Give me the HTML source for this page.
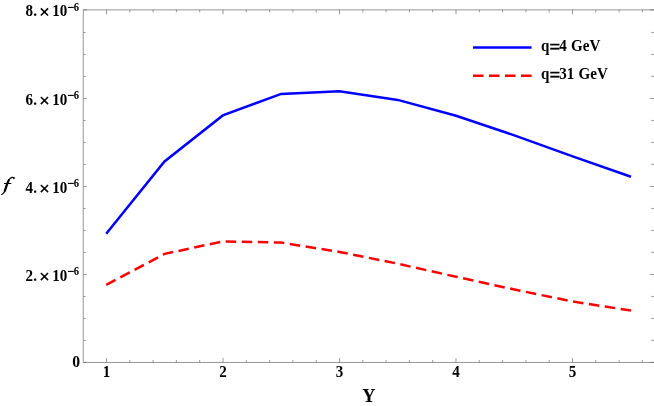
<!DOCTYPE html>
<html><head><meta charset="utf-8"><title>plot</title>
<style>
html,body{margin:0;padding:0;background:#fff;}
body{width:654px;height:406px;overflow:hidden;font-family:"Liberation Serif",serif;}
svg{display:block;will-change:transform;}
text{font-family:"Liberation Serif",serif;font-weight:bold;fill:#000;}
</style></head><body>
<svg width="654" height="406" viewBox="0 0 654 406">
<rect x="0" y="0" width="654" height="406" fill="#fff"/>
<g stroke="#666" stroke-width="0.68" fill="none">
<path d="M83.25 9.85 H654.60 M83.25 362.45 H654.60 M83.25 9.85 V362.45 M654.60 9.85 V362.45"/>
<path stroke-width="0.66" d="M106.50 362.45 v-4.40 M106.50 9.85 v4.40 M129.80 362.45 v-2.50 M129.80 9.85 v2.50 M153.10 362.45 v-2.50 M153.10 9.85 v2.50 M176.40 362.45 v-2.50 M176.40 9.85 v2.50 M199.70 362.45 v-2.50 M199.70 9.85 v2.50 M223.00 362.45 v-4.40 M223.00 9.85 v4.40 M246.30 362.45 v-2.50 M246.30 9.85 v2.50 M269.60 362.45 v-2.50 M269.60 9.85 v2.50 M292.90 362.45 v-2.50 M292.90 9.85 v2.50 M316.20 362.45 v-2.50 M316.20 9.85 v2.50 M339.50 362.45 v-4.40 M339.50 9.85 v4.40 M362.80 362.45 v-2.50 M362.80 9.85 v2.50 M386.10 362.45 v-2.50 M386.10 9.85 v2.50 M409.40 362.45 v-2.50 M409.40 9.85 v2.50 M432.70 362.45 v-2.50 M432.70 9.85 v2.50 M456.00 362.45 v-4.40 M456.00 9.85 v4.40 M479.30 362.45 v-2.50 M479.30 9.85 v2.50 M502.60 362.45 v-2.50 M502.60 9.85 v2.50 M525.90 362.45 v-2.50 M525.90 9.85 v2.50 M549.20 362.45 v-2.50 M549.20 9.85 v2.50 M572.50 362.45 v-4.40 M572.50 9.85 v4.40 M595.80 362.45 v-2.50 M595.80 9.85 v2.50 M619.10 362.45 v-2.50 M619.10 9.85 v2.50 M642.40 362.45 v-2.50 M642.40 9.85 v2.50 M83.25 362.45 h3.70 M654.60 362.45 h-4.60 M83.25 340.45 h2.40 M654.60 340.45 h-3.30 M83.25 318.45 h2.40 M654.60 318.45 h-3.30 M83.25 296.45 h2.40 M654.60 296.45 h-3.30 M83.25 274.45 h3.70 M654.60 274.45 h-4.60 M83.25 252.45 h2.40 M654.60 252.45 h-3.30 M83.25 230.45 h2.40 M654.60 230.45 h-3.30 M83.25 208.45 h2.40 M654.60 208.45 h-3.30 M83.25 186.45 h3.70 M654.60 186.45 h-4.60 M83.25 164.45 h2.40 M654.60 164.45 h-3.30 M83.25 142.45 h2.40 M654.60 142.45 h-3.30 M83.25 120.45 h2.40 M654.60 120.45 h-3.30 M83.25 98.45 h3.70 M654.60 98.45 h-4.60 M83.25 76.45 h2.40 M654.60 76.45 h-3.30 M83.25 54.45 h2.40 M654.60 54.45 h-3.30 M83.25 32.45 h2.40 M654.60 32.45 h-3.30 M83.25 9.85 h3.70 M654.60 9.85 h-4.60"/>
</g>
<polyline points="106.20,233.70 164.51,161.50 222.82,115.40 281.13,93.95 339.44,91.25 397.75,99.90 456.06,115.80 514.37,135.40 572.68,156.40 630.99,176.75" fill="none" stroke="#0000ff" stroke-width="2.5" stroke-linejoin="miter" stroke-linecap="butt"/>
<polyline points="106.20,284.90 164.51,253.90 222.82,241.40 281.13,242.60 339.44,251.90 397.75,263.70 456.06,276.80 514.37,289.50 572.68,301.50 630.99,310.60" fill="none" stroke="#ff0000" stroke-width="2.5" stroke-linejoin="miter" stroke-linecap="butt" stroke-dasharray="10.55 5.513"/>
<line x1="473" y1="47.6" x2="531.6" y2="47.6" stroke="#0000ff" stroke-width="2.5"/>
<line x1="473" y1="75.85" x2="531.6" y2="75.85" stroke="#ff0000" stroke-width="2.5" stroke-dasharray="10.5 5.5"/>
<text transform="translate(540.90 51.15) scale(1.000 1.070)" font-size="15.1">q</text>
<text transform="translate(549.50 53.20) scale(1.250 1.220)" font-size="15.1" stroke="#000" stroke-width="0.3">=</text>
<text transform="translate(559.30 51.15) scale(1.000 1.070)" font-size="15.1" word-spacing="0.4">4 GeV</text>
<text transform="translate(540.90 79.35) scale(1.000 1.070)" font-size="15.1">q</text>
<text transform="translate(549.50 81.40) scale(1.250 1.220)" font-size="15.1" stroke="#000" stroke-width="0.3">=</text>
<text transform="translate(559.30 79.35) scale(1.000 1.070)" font-size="15.1" word-spacing="0.4">31 GeV</text>
<text transform="translate(106.60 377.25) scale(1.000 1.070)" font-size="15.1" text-anchor="middle">1</text>
<text transform="translate(223.10 377.25) scale(1.000 1.070)" font-size="15.1" text-anchor="middle">2</text>
<text transform="translate(339.60 377.25) scale(1.000 1.070)" font-size="15.1" text-anchor="middle">3</text>
<text transform="translate(456.10 377.25) scale(1.000 1.070)" font-size="15.1" text-anchor="middle">4</text>
<text transform="translate(572.60 377.25) scale(1.000 1.070)" font-size="15.1" text-anchor="middle">5</text>
<text transform="translate(25.60 280.67) scale(1.000 1.070)" font-size="15.1">2.</text>
<path d="M40.85 272.92 l7.20 7.20 M40.85 280.12 l7.20 -7.20" stroke="#000" stroke-width="1.5" fill="none"/>
<text transform="translate(52.20 280.67) scale(1.000 1.070)" font-size="15.1">10</text>
<text transform="translate(67.35 277.47) scale(1.130 1.500)" font-size="11.2">−</text>
<text transform="translate(73.70 275.22) scale(0.950 1.060)" font-size="11.2">6</text>
<text transform="translate(25.60 192.67) scale(1.000 1.070)" font-size="15.1">4.</text>
<path d="M40.85 184.92 l7.20 7.20 M40.85 192.12 l7.20 -7.20" stroke="#000" stroke-width="1.5" fill="none"/>
<text transform="translate(52.20 192.67) scale(1.000 1.070)" font-size="15.1">10</text>
<text transform="translate(67.35 189.47) scale(1.130 1.500)" font-size="11.2">−</text>
<text transform="translate(73.70 187.22) scale(0.950 1.060)" font-size="11.2">6</text>
<text transform="translate(25.60 104.67) scale(1.000 1.070)" font-size="15.1">6.</text>
<path d="M40.85 96.92 l7.20 7.20 M40.85 104.12 l7.20 -7.20" stroke="#000" stroke-width="1.5" fill="none"/>
<text transform="translate(52.20 104.67) scale(1.000 1.070)" font-size="15.1">10</text>
<text transform="translate(67.35 101.47) scale(1.130 1.500)" font-size="11.2">−</text>
<text transform="translate(73.70 99.22) scale(0.950 1.060)" font-size="11.2">6</text>
<text transform="translate(25.60 16.10) scale(1.000 1.070)" font-size="15.1">8.</text>
<path d="M40.85 8.35 l7.20 7.20 M40.85 15.55 l7.20 -7.20" stroke="#000" stroke-width="1.5" fill="none"/>
<text transform="translate(52.20 16.10) scale(1.000 1.070)" font-size="15.1">10</text>
<text transform="translate(67.35 12.90) scale(1.130 1.500)" font-size="11.2">−</text>
<text transform="translate(73.70 10.65) scale(0.950 1.060)" font-size="11.2">6</text>
<text transform="translate(72.30 367.10) scale(1.040 1.070)" font-size="15.1">0</text>
<text transform="translate(368.80 401.90) scale(1.000 1.000)" font-size="18.3" text-anchor="middle">Y</text>
<g fill="none" stroke="#000" stroke-linecap="round" stroke-linejoin="round"><path d="M14.3 177.9 C13.5 177.35 12.8 177.25 12.2 177.4 C11.2 177.7 10.5 178.1 9.94 178.6 C9.3 179.2 8.9 179.7 8.65 180.4 L7.24 183.6 L6.41 186.1 L5.64 188.7 L4.62 191.2 C4.3 192.0 3.9 192.7 3.5 193.2 C3.0 193.8 2.4 194.2 1.7 194.5" stroke-width="1.15"/><path d="M8.8 180.1 L7.24 183.6 L6.41 186.1 L5.64 188.7 L4.8 190.9" stroke-width="2.2"/><path d="M4.4 183.5 H10.9" stroke-width="1.0"/></g><circle cx="13.9" cy="178.4" r="0.8" fill="#000"/>
<text x="3" y="190" font-size="19" font-style="italic" fill="none" style="fill:none">f</text>
</svg>
</body></html>
